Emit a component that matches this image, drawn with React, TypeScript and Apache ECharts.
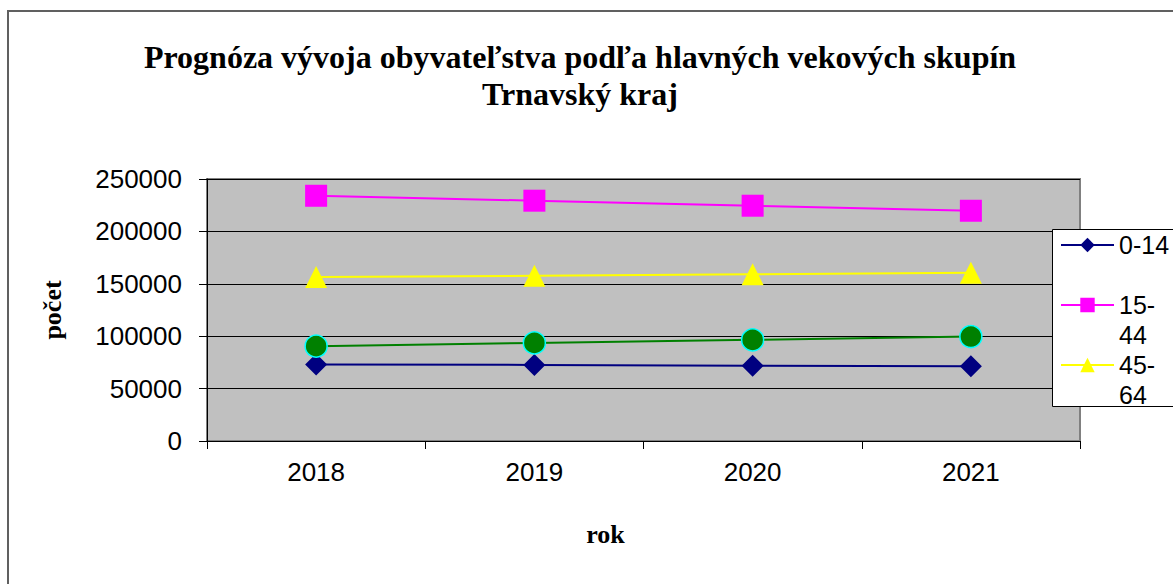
import { useEffect, useRef } from "react";
import * as echarts from "echarts";

const categories = ["2018", "2019", "2020", "2021"];
const seriesNames = ["0-14", "15-44", "45-64", "65+"];
const values0014 = [73000, 72600, 71800, 71400];
const values1544 = [234000, 229300, 224500, 219700];
const values4564 = [156400, 157600, 159000, 160500];
const values65 = [90500, 93600, 96500, 99700];
const yMin = 0;
const yMax = 250000;
const yInterval = 50000;
const legendNames = ["0-14", "15-44", "45-64"];
const legendLabels: Record<string, string> = {
  "0-14": "\n0-14\n",
  "15-44": "\n15-\n44",
  "45-64": "\n45-\n64",
};
const titleText = "Prognóza vývoja obyvateľstva podľa hlavných vekových skupín\nTrnavský kraj";
const yName = "počet";
const xName = "rok";

const SERIF = '"Liberation Serif", "Times New Roman", serif';
const SANS = '"Liberation Sans", Arial, sans-serif';

export default function App() {
  const ref = useRef<HTMLDivElement>(null);
  useEffect(() => {
    if (!ref.current) return;
    const chart = echarts.init(ref.current, undefined, { renderer: "svg" });
    const mk = (
      name: string,
      data: number[],
      color: string,
      symbol: string,
      extra: any = {}
    ) => ({
      name,
      type: "line",
      data,
      symbol,
      symbolSize: 22,
      showSymbol: true,
      lineStyle: { color, width: 2 },
      itemStyle: { color, ...extra },
      emphasis: { disabled: true },
    });
    chart.setOption({
      animation: false,
      backgroundColor: "#ffffff",
      title: {
        text: titleText,
        left: 580,
        top: 38,
        padding: 0,
        textAlign: "center",
        textStyle: {
          fontFamily: SERIF,
          fontWeight: "bold",
          fontSize: 32,
          lineHeight: 37,
          color: "#000",
        },
      },
      graphic: [
        {
          type: "rect",
          z: -10,
          silent: true,
          shape: { x: 8, y: 11, width: 1300, height: 700 },
          style: { fill: "none", stroke: "#606060", lineWidth: 2 },
        },
        {
          type: "rect",
          z: 3,
          silent: true,
          shape: { x: 1052.5, y: 229.5, width: 200, height: 177 },
          style: { fill: "#ffffff", stroke: "#000000", lineWidth: 1 },
        },
      ],
      legend: {
        data: legendNames,
        orient: "vertical",
        left: 1060,
        top: 200,
        padding: 0,
        itemWidth: 53,
        itemHeight: 18,
        itemGap: -30,
        selectedMode: false,
        z: 5,
        formatter: (n: string) => legendLabels[n] ?? n,
        textStyle: {
          fontFamily: SANS,
          fontSize: 25,
          lineHeight: 30,
          color: "#000",
        },
      },
      grid: {
        left: 207,
        top: 179,
        width: 873,
        height: 262,
        show: true,
        backgroundColor: "#C0C0C0",
        borderColor: "#808080",
        borderWidth: 2,
      },
      xAxis: {
        type: "category",
        data: categories,
        boundaryGap: true,
        name: xName,
        nameLocation: "middle",
        nameGap: 80,
        nameTextStyle: {
          fontFamily: SERIF,
          fontWeight: "bold",
          fontSize: 26,
          color: "#000",
          padding: [0, 76, 0, 0],
        },
        axisLine: { show: true, lineStyle: { color: "#000", width: 1 } },
        axisTick: { show: true, length: 8, interval: 0, lineStyle: { color: "#000" } },
        axisLabel: { fontFamily: SANS, fontSize: 26, color: "#000", margin: 18 },
        splitLine: { show: false },
      },
      yAxis: {
        type: "value",
        min: yMin,
        max: yMax,
        interval: yInterval,
        name: yName,
        nameLocation: "middle",
        nameGap: 142,
        nameTextStyle: {
          fontFamily: SERIF,
          fontWeight: "bold",
          fontSize: 26,
          color: "#000",
        },
        axisLine: { show: true, lineStyle: { color: "#000", width: 1 } },
        axisTick: { show: true, length: 8, lineStyle: { color: "#000" } },
        axisLabel: {
          fontFamily: SANS,
          fontSize: 26,
          color: "#000",
          margin: 25,
          formatter: (v: number) => String(v),
        },
        splitLine: { show: true, lineStyle: { color: "#000", width: 1 } },
      },
      series: [
        mk(seriesNames[0], values0014, "#000080", "diamond"),
        mk(seriesNames[1], values1544, "#FF00FF", "rect"),
        mk(seriesNames[2], values4564, "#FFFF00", "triangle"),
        mk(seriesNames[3], values65, "#008000", "circle", {
          borderColor: "#00FFFF",
          borderWidth: 1.5,
        }),
      ],
    });
    return () => chart.dispose();
  }, []);
  return (
    <div
      ref={ref}
      style={{ position: "fixed", left: 0, top: 0, width: 1173, height: 584 }}
    />
  );
}
